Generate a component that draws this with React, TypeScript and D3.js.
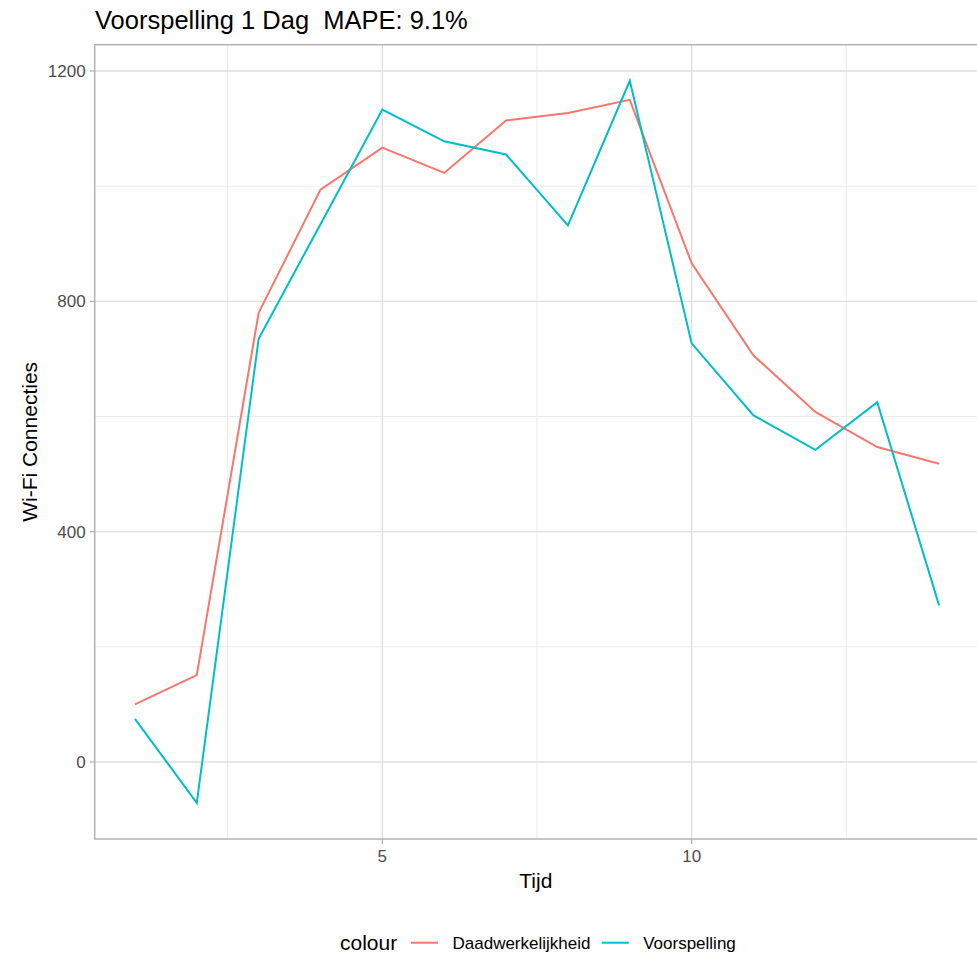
import React from "react";
import * as d3 from "d3";

const tijd = [1, 2, 3, 4, 5, 6, 7, 8, 9, 10, 11, 12, 13, 14];
const daadwerkelijkheid = [100, 151, 780, 994, 1067, 1023, 1114, 1127, 1150, 866, 706, 608, 547, 518];
const voorspelling = [75, -71, 735, 934, 1133, 1078, 1055, 932, 1183, 727, 602, 542, 625, 272];
const seriesNames = ["Daadwerkelijkheid", "Voorspelling"];
const seriesColors = ["#F8766D", "#00BFC4"];
const xTicks = [5, 10];
const xMinor = [2.5, 7.5, 12.5];
const yTicks = [0, 400, 800, 1200];
const yMinor = [200, 600, 1000];
const titleText = "Voorspelling 1 Dag  MAPE: 9.1%";

export default function App() {
  const W = 977, H = 954;
  const pl = 94.7, pr = 979.3, pt = 44.7, pb = 839;
  const font = "'Liberation Sans', Arial, Helvetica, sans-serif";

  const allY = [...daadwerkelijkheid, ...voorspelling];
  const yMinV = d3.min(allY)!, yMaxV = d3.max(allY)!;
  const yExp = (yMaxV - yMinV) * 0.05;
  const xExp = (14 - 1) * 0.05;
  const x = d3.scaleLinear().domain([1 - xExp, 14 + xExp]).range([pl, pr]);
  const y = d3.scaleLinear().domain([yMinV - yExp, yMaxV + yExp]).range([pb, pt]);

  const line = d3.line<number>().x((_, i) => x(tijd[i])).y((d) => y(d));
  const data = [daadwerkelijkheid, voorspelling];

  return (
    <svg width={W} height={H} style={{ position: "absolute", left: 0, top: 0 }} fontFamily={font}>
      <rect width={W} height={H} fill="#fff" />
      {/* minor grid */}
      {xMinor.map((v) => (
        <line key={"xm" + v} x1={x(v)} x2={x(v)} y1={pt} y2={pb} stroke="#EBEBEB" strokeWidth={1} />
      ))}
      {yMinor.map((v) => (
        <line key={"ym" + v} x1={pl} x2={pr} y1={y(v)} y2={y(v)} stroke="#EBEBEB" strokeWidth={1} />
      ))}
      {/* major grid */}
      {xTicks.map((v) => (
        <line key={"xg" + v} x1={x(v)} x2={x(v)} y1={pt} y2={pb} stroke="#DEDEDE" strokeWidth={1.3} />
      ))}
      {yTicks.map((v) => (
        <line key={"yg" + v} x1={pl} x2={pr} y1={y(v)} y2={y(v)} stroke="#DEDEDE" strokeWidth={1.3} />
      ))}
      {/* lines */}
      {data.map((d, i) => (
        <path key={seriesNames[i]} d={line(d) || ""} fill="none" stroke={seriesColors[i]} strokeWidth={2} />
      ))}
      {/* panel border */}
      <rect x={pl} y={pt} width={pr - pl} height={pb - pt} fill="none" stroke="#B3B3B3" strokeWidth={1.5} />
      {/* y ticks */}
      {yTicks.map((v) => (
        <g key={"yt" + v}>
          <line x1={pl - 5} x2={pl} y1={y(v)} y2={y(v)} stroke="#B3B3B3" strokeWidth={1.3} />
          <text x={pl - 9} y={y(v)} dy="0.35em" textAnchor="end" fontSize={17} fill="#4D4D4D">{v}</text>
        </g>
      ))}
      {/* x ticks */}
      {xTicks.map((v) => (
        <g key={"xt" + v}>
          <line x1={x(v)} x2={x(v)} y1={pb} y2={pb + 5} stroke="#B3B3B3" strokeWidth={1.3} />
          <text x={x(v)} y={pb + 23} textAnchor="middle" fontSize={17} fill="#4D4D4D">{v}</text>
        </g>
      ))}
      {/* axis titles */}
      <text x={(pl + 977) / 2} y={888} textAnchor="middle" fontSize={21} fill="#000">Tijd</text>
      <text transform={`translate(37, ${(pt + pb) / 2}) rotate(-90)`} textAnchor="middle" fontSize={21} fill="#000">Wi-Fi Connecties</text>
      {/* title */}
      <text x={95} y={29} fontSize={25.5} fill="#000" style={{ whiteSpace: "pre" }} xmlSpace="preserve">{titleText}</text>
      {/* legend */}
      <text x={340} y={942.7} dy="0.35em" fontSize={21} fill="#000">colour</text>
      {seriesNames.map((n, i) => {
        const kx = i === 0 ? 411 : 601.7;
        return (
          <g key={"lg" + n}>
            <line x1={kx} x2={kx + 27} y1={942.7} y2={942.7} stroke={seriesColors[i]} strokeWidth={2} />
            <text x={kx + 41.5} y={942.7} dy="0.35em" fontSize={17} fill="#000">{n}</text>
          </g>
        );
      })}
    </svg>
  );
}
